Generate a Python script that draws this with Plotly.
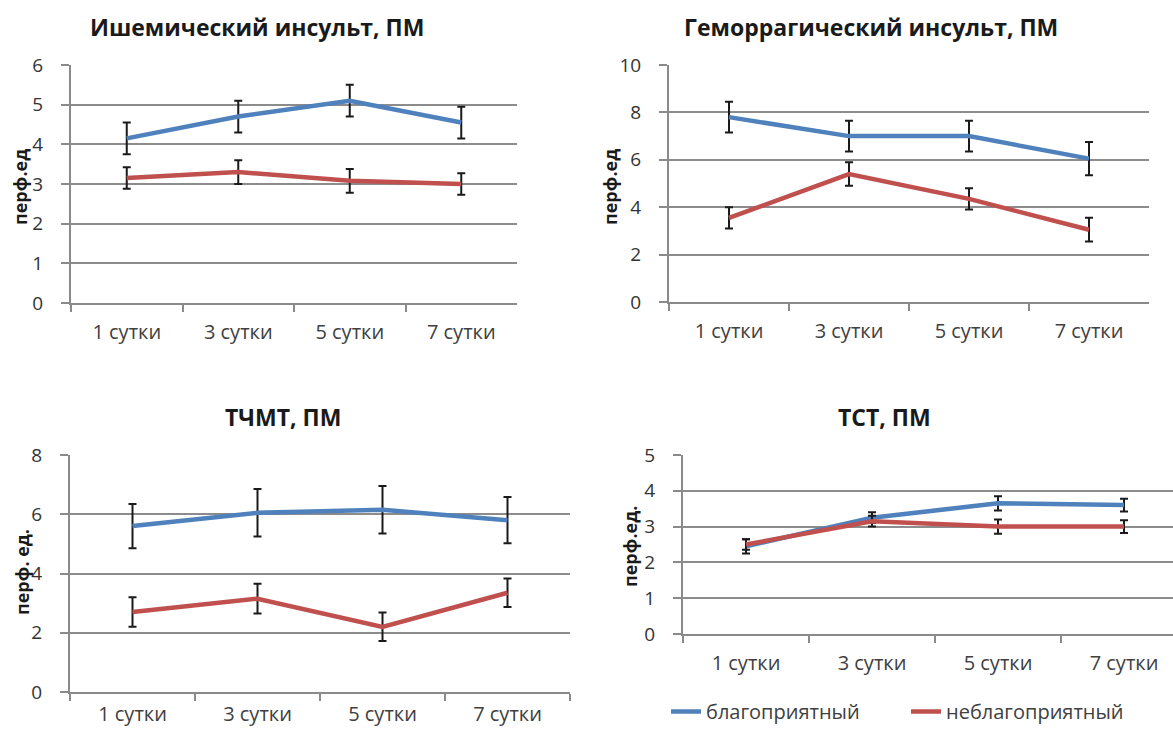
import plotly.graph_objects as go

categories = ["1 сутки", "3 сутки", "5 сутки", "7 сутки"]
series_names = ["благоприятный", "неблагоприятный"]

titles = ["Ишемический инсульт, ПМ", "Геморрагический инсульт, ПМ", "ТЧМТ, ПМ", "ТСТ, ПМ"]
ytitles = ["перф.ед", "перф.ед", "перф. ед.", "перф.ед."]

isch_good = [4.15, 4.7, 5.1, 4.55]
isch_good_err = [0.4, 0.4, 0.4, 0.4]
isch_bad = [3.15, 3.3, 3.08, 3.0]
isch_bad_err = [0.27, 0.3, 0.3, 0.27]

hem_good = [7.8, 7.0, 7.0, 6.05]
hem_good_err = [0.65, 0.65, 0.65, 0.7]
hem_bad = [3.55, 5.4, 4.35, 3.05]
hem_bad_err = [0.45, 0.5, 0.45, 0.5]

tbi_good = [5.6, 6.05, 6.15, 5.8]
tbi_good_err = [0.75, 0.8, 0.8, 0.78]
tbi_bad = [2.7, 3.15, 2.2, 3.35]
tbi_bad_err = [0.5, 0.5, 0.48, 0.48]

tst_good = [2.45, 3.25, 3.65, 3.6]
tst_good_err = [0.2, 0.15, 0.2, 0.18]
tst_bad = [2.5, 3.15, 3.0, 3.0]
tst_bad_err = [0.15, 0.15, 0.2, 0.18]

y_max = [6, 10, 8, 5]
y_dtick = [1, 2, 2, 1]

panels = [
    (isch_good, isch_good_err, isch_bad, isch_bad_err),
    (hem_good, hem_good_err, hem_bad, hem_bad_err),
    (tbi_good, tbi_good_err, tbi_bad, tbi_bad_err),
    (tst_good, tst_good_err, tst_bad, tst_bad_err),
]

W, H = 1173, 731
# pixel layouts: (left, right, top, bottom)
boxes = [(71, 517, 65, 303), (669, 1149, 65, 302), (70, 570, 455, 692), (683, 1173, 455, 634)]
xranges = [[-0.5, 3.5], [-0.5, 3.5], [-0.5, 3.5], [-0.5, 3.5 - 14 / 126]]
title_pos = [(257, 27), (871, 27), (283, 417), (884, 417)]
ytitle_pos = [(20, 187), (610, 187), (22, 572), (630, 547)]
x_standoff = [10, 10, 3, 10]

colors = ["#4F81BD", "#C0504D"]
font = "Open Sans, Liberation Sans, sans-serif"

fig = go.Figure()
layout = {}
annotations = []
for i, (g, ge, b, be) in enumerate(panels):
    n = "" if i == 0 else str(i + 1)
    xa, ya = "x" + n, "y" + n
    for j, (vals, errs) in enumerate([(g, ge), (b, be)]):
        fig.add_trace(go.Scatter(
            x=categories, y=vals, mode="lines",
            line=dict(color=colors[j], width=4.5),
            error_y=dict(type="data", array=errs, visible=True, color="#1a1a1a", thickness=2, width=4),
            name=series_names[j], showlegend=(i == 3), xaxis=xa, yaxis=ya,
        ))
    l, r, t, bt = boxes[i]
    layout["xaxis" + n] = dict(
        domain=[l / W, r / W], anchor=ya, type="category", range=xranges[i],
        showline=True, linecolor="#8a8a8a", linewidth=2,
        ticks="outside", tickson="boundaries", ticklen=7, tickcolor="#8a8a8a", tickwidth=1.5,
        showgrid=False, tickfont=dict(size=20, color="#404040", family=font),
        ticklabelstandoff=x_standoff[i], fixedrange=True, automargin=False,
    )
    layout["yaxis" + n] = dict(
        domain=[1 - bt / H, 1 - t / H], anchor=xa, range=[0, y_max[i]], dtick=y_dtick[i],
        showline=True, linecolor="#8a8a8a", linewidth=2,
        ticks="outside", ticklen=8, tickcolor="#8a8a8a", tickwidth=1.5,
        showgrid=True, gridcolor="#8c8c8c", gridwidth=1.8, zeroline=False,
        tickfont=dict(size=19, color="#333333", family=font), ticklabelstandoff=14,
        automargin=False,
    )
    tx, ty = title_pos[i]
    annotations.append(dict(text="<b>" + titles[i] + "</b>", x=tx / W, y=1 - ty / H, xref="paper", yref="paper",
                            showarrow=False, font=dict(size=23, color="#1a1a1a", family=font),
                            xanchor="center", yanchor="middle"))
    yx, yy = ytitle_pos[i]
    annotations.append(dict(text="<b>" + ytitles[i] + "</b>", x=yx / W, y=1 - yy / H, xref="paper", yref="paper",
                            showarrow=False, textangle=-90, font=dict(size=18, color="#1a1a1a", family=font),
                            xanchor="center", yanchor="middle"))

fig.update_layout(
    **layout,
    width=W, height=H,
    margin=dict(l=0, r=0, t=0, b=0),
    paper_bgcolor="white", plot_bgcolor="white",
    annotations=annotations,
    showlegend=True,
    legend=dict(orientation="h", x=666 / W, y=0, xanchor="left", yanchor="bottom",
                font=dict(size=20, color="#404040", family=font), itemwidth=30,
                bgcolor="rgba(0,0,0,0)", tracegroupgap=0, entrywidthmode="pixels", entrywidth=195),
)

fig.write_html("out.html")
